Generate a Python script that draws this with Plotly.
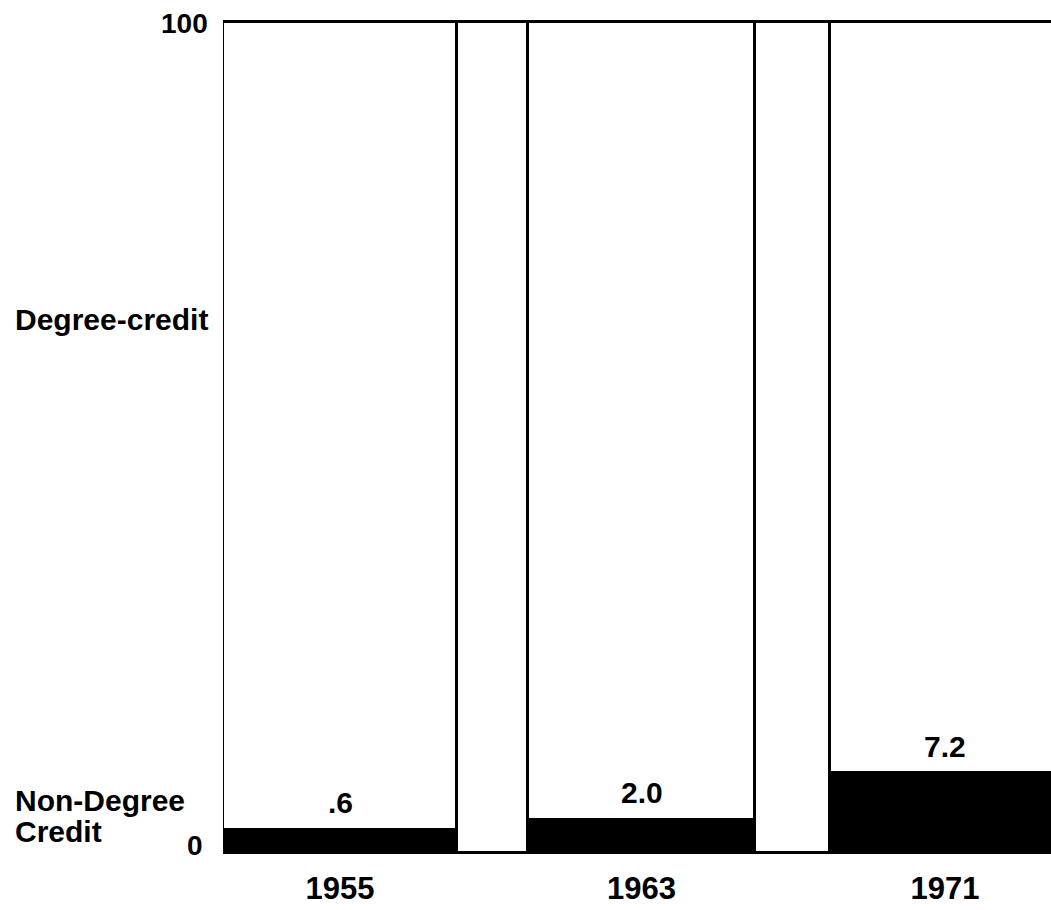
import plotly.graph_objects as go

# ---- data ----
years = ["1955", "1963", "1971"]
non_degree_labels = [".6", "2.0", "7.2"]          # printed values
non_degree_drawn = [2.75, 3.95, 9.55]             # bar heights as drawn (0-100 scale)
degree_credit = [100 - v for v in non_degree_drawn]
spacer_values = [100, 100]
y_ticks = [0, 100]
y_tick_text = ["0", "100"]

# ---- geometry (pixel-like x units) ----
wide_w = [234, 227, 230]
narrow_w = [71, 75]
centers, spacer_centers = [], []
pos = 0
for i, w in enumerate(wide_w):
    centers.append(pos + w / 2)
    pos += w
    if i < len(narrow_w):
        spacer_centers.append(pos + narrow_w[i] / 2)
        pos += narrow_w[i]

FONT = "Liberation Sans, Arial, Helvetica, sans-serif"
line = dict(color="black", width=3.5)

fig = go.Figure()
fig.add_trace(go.Bar(x=centers, y=non_degree_drawn, width=wide_w,
                     marker=dict(color="black", line=line), showlegend=False))
fig.add_trace(go.Bar(x=centers, y=degree_credit, width=wide_w,
                     marker=dict(color="white", line=line), showlegend=False))
fig.add_trace(go.Bar(x=spacer_centers, y=spacer_values, width=narrow_w,
                     marker=dict(color="white", line=line), showlegend=False))

for c, h, t in zip(centers, non_degree_drawn, non_degree_labels):
    fig.add_annotation(x=c, y=h, text=t, showarrow=False, yanchor="middle", yshift=27,
                       font=dict(family=FONT, size=30, color="black", weight="bold"))

label_font = dict(family=FONT, size=30, color="black", weight="bold")
LEFT = -210 / 828
fig.add_annotation(xref="paper", x=LEFT, y=64.2, text="Degree-credit", showarrow=False,
                   xanchor="left", yanchor="middle", font=label_font)
fig.add_annotation(xref="paper", x=LEFT, y=6.23, text="Non-Degree", showarrow=False,
                   xanchor="left", yanchor="middle", font=label_font)
fig.add_annotation(xref="paper", x=LEFT, y=2.51, text="Credit", showarrow=False,
                   xanchor="left", yanchor="middle", font=label_font)

# y-axis tick labels (drawn as annotations to mimic the original placement)
tick_shift = {0: (-18, 7), 100: (-13, -1)}
for v, t in zip(y_ticks, y_tick_text):
    dx, dy = tick_shift[v]
    fig.add_annotation(xref="paper", x=0, y=v, text=t, showarrow=False,
                       xanchor="right", yanchor="middle", xshift=dx, yshift=dy,
                       font=dict(family=FONT, size=28, color="black", weight="bold"))

fig.update_layout(
    barmode="stack", bargap=0,
    width=1051, height=910,
    margin=dict(l=223, r=0, t=20, b=55),
    plot_bgcolor="white", paper_bgcolor="white",
    hovermode=False,
    xaxis=dict(range=[0, 828], tickvals=centers, ticktext=years, showgrid=False,
               zeroline=False, showline=False, ticks="", ticklabelstandoff=12,
               tickfont=dict(family=FONT, size=31, color="black", weight="bold")),
    yaxis=dict(range=[-0.3, 100.3], showgrid=False, showticklabels=False,
               zeroline=False, showline=False, ticks=""),
)

fig.write_html("out.html", config={"displayModeBar": False},
               post_script="document.body.style.margin='0';document.body.style.overflow='hidden';")
